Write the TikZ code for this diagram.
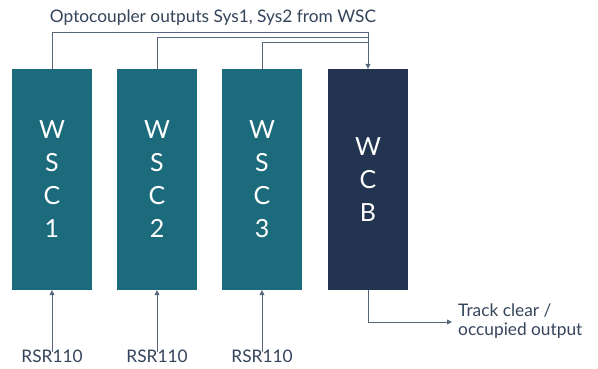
\documentclass[tikz,border=0pt]{standalone}
\usepackage{fontspec}
\setmainfont{Lato}
\usetikzlibrary{arrows.meta}
\definecolor{teal}{HTML}{1B6B7C}
\definecolor{navy}{HTML}{22344F}
\definecolor{txt}{HTML}{33445A}
\definecolor{ln}{HTML}{56677C}
\tikzset{
  unitbox/.style={minimum width=80pt,minimum height=221pt,inner sep=0pt,text=white,font=\fontsize{25}{33}\selectfont,align=center},
  conn/.style={draw=ln,line width=0.8pt},
  arr/.style={conn,-{Triangle[length=5pt,width=5pt]}},
  lbl/.style={text=txt,font=\fontsize{17.3}{18.5}\selectfont,inner sep=0pt}
}
\begin{document}
\begin{tikzpicture}[x=1pt,y=-1pt]
\useasboundingbox (0,0) rectangle (598,369);
\node[unitbox,fill=teal] (w1) at (52,179.5) {W\\S\\C\\1};
\node[unitbox,fill=teal] (w2) at (157,179.5) {W\\S\\C\\2};
\node[unitbox,fill=teal] (w3) at (262,179.5) {W\\S\\C\\3};
\node[unitbox,fill=navy] (wcb) at (368,179.5) {W\\C\\B};
\node[lbl] (title) at (213,18) {Optocoupler outputs Sys1, Sys2 from WSC};
\coordinate (j1) at (368,32);
\coordinate (j2) at (368,37);
\coordinate (j3) at (368,42);
\draw[conn] (w1.north) |- (j1);
\draw[conn] (w2.north) |- (j2);
\draw[conn] (w3.north) |- (j3);
\draw[arr] (j1) -- (wcb.north);
\node[lbl,anchor=west,align=left] (out) at (458,321) {Track clear /\\occupied output};
\draw[arr] (wcb.south) |- ([xshift=-6pt]out.west |- 0,322);
\foreach \i/\x in {1/52,2/157,3/262}{
  \node[lbl] (r\i) at (\x,356) {RSR110};
  \draw[arr] ([yshift=-3pt]r\i.north) -- (w\i.south);
}
\end{tikzpicture}
\end{document}
